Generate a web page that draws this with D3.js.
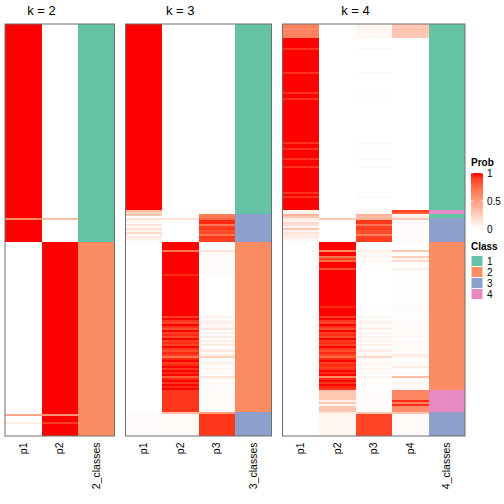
<!DOCTYPE html>
<html>
<head>
<meta charset="utf-8">
<script src="https://cdn.jsdelivr.net/npm/d3@7"></script>
<style>
  html, body { margin: 0; padding: 0; background: #fff; }
  svg { display: block; }
  text { font-family: "Liberation Sans", Arial, Helvetica, sans-serif; fill: #000; }
</style>
</head>
<body>
<svg id="chart" width="504" height="504"></svg>
<script>
// ---------------- DATA ----------------
// Each run: [number of samples, p1, ..., pk, class]; rows in the same sample order for every panel.
const kValues = [2, 3, 4];
const classLevels = [1, 2, 3, 4];
const classColors = ["#66C2A5", "#FC8D62", "#8DA0CB", "#E78AC3"];
const probTicks = [0, 0.5, 1];

const k2Runs = [
  [97, 1, 0, 1],
  [1, 0.6, 0.35, 1],
  [11, 1, 0, 1],
  [86, 0, 1, 2],
  [1, 0.45, 0.55, 2],
  [3, 0, 1, 2],
  [1, 0.1, 0.9, 2],
  [6, 0, 1, 2]
];

const k3Runs = [
  [93, 1, 0, 0, 1],
  [1, 0.35, 0, 0.05, 1],
  [1, 0.25, 0.02, 0.05, 1],
  [1, 0.3, 0, 0.65, 3],
  [1, 0.02, 0, 0.7, 3],
  [1, 0.15, 0.15, 0.75, 3],
  [1, 0.05, 0, 0.95, 3],
  [1, 0.03, 0, 0.95, 3],
  [1, 0.15, 0, 0.7, 3],
  [1, 0.05, 0, 0.9, 3],
  [1, 0.15, 0, 0.92, 3],
  [1, 0.05, 0, 0.85, 3],
  [1, 0.2, 0, 0.88, 3],
  [1, 0.05, 0, 0.7, 3],
  [1, 0.12, 0, 0.92, 3],
  [1, 0.08, 0, 0.9, 3],
  [1, 0.02, 0, 0.9, 3],
  [4, 0, 1, 0, 2],
  [1, 0, 0.7, 0.15, 2],
  [11, 0, 1, 0.02, 2],
  [1, 0, 0.95, 0.03, 2],
  [20, 0, 1, 0, 2],
  [1, 0, 0.9, 0.08, 2],
  [1, 0, 1, 0, 2],
  [1, 0, 0.92, 0.05, 2],
  [1, 0, 0.88, 0.1, 2],
  [1, 0, 1, 0.02, 2],
  [1, 0, 0.93, 0.05, 2],
  [1, 0, 0.85, 0.12, 2],
  [1, 0, 1, 0, 2],
  [1, 0, 0.9, 0.07, 2],
  [1, 0, 0.95, 0.03, 2],
  [1, 0, 0.87, 0.1, 2],
  [1, 0, 1, 0.01, 2],
  [1, 0, 0.9, 0.08, 2],
  [1, 0, 0.95, 0.04, 2],
  [1, 0, 0.88, 0.1, 2],
  [1, 0, 1, 0, 2],
  [1, 0, 0.92, 0.06, 2],
  [1, 0, 0.86, 0.12, 2],
  [1, 0, 0.95, 0.04, 2],
  [1, 0, 0.9, 0.08, 2],
  [1, 0, 0.7, 0.25, 2],
  [1, 0, 0.95, 0.04, 2],
  [1, 0, 1, 0.01, 2],
  [1, 0, 0.9, 0.08, 2],
  [1, 0, 0.95, 0.03, 2],
  [1, 0, 1, 0, 2],
  [1, 0, 0.92, 0.05, 2],
  [1, 0, 1, 0.01, 2],
  [1, 0, 0.95, 0.03, 2],
  [1, 0, 1, 0, 2],
  [1, 0, 0.8, 0.15, 2],
  [1, 0, 0.95, 0.04, 2],
  [1, 0, 1, 0.01, 2],
  [1, 0, 0.92, 0.05, 2],
  [1, 0, 1, 0, 2],
  [1, 0, 0.95, 0.03, 2],
  [1, 0, 1, 0.01, 2],
  [11, 0, 0.92, 0.03, 2],
  [1, 0, 0.35, 0.5, 3],
  [11, 0.02, 0.03, 0.92, 3]
];

const k4Runs = [
  [1, 0.62, 0, 0.05, 0.3, 1],
  [1, 0.65, 0, 0.05, 0.28, 1],
  [1, 0.6, 0, 0.06, 0.32, 1],
  [1, 0.64, 0, 0.05, 0.3, 1],
  [1, 0.62, 0, 0.05, 0.3, 1],
  [1, 0.66, 0, 0.04, 0.28, 1],
  [1, 0.63, 0, 0.05, 0.3, 1],
  [5, 1, 0, 0, 0, 1],
  [1, 0.93, 0, 0.03, 0, 1],
  [11, 1, 0, 0, 0, 1],
  [1, 0.93, 0, 0.03, 0, 1],
  [9, 1, 0, 0, 0, 1],
  [1, 0.93, 0, 0.03, 0, 1],
  [2, 1, 0, 0, 0, 1],
  [1, 0.93, 0, 0.03, 0, 1],
  [21, 1, 0, 0, 0, 1],
  [1, 0.93, 0, 0.03, 0, 1],
  [2, 1, 0, 0, 0, 1],
  [1, 0.93, 0, 0.03, 0, 1],
  [4, 1, 0, 0, 0, 1],
  [1, 0.93, 0, 0.03, 0, 1],
  [3, 1, 0, 0, 0, 1],
  [1, 0.93, 0, 0.03, 0, 1],
  [12, 1, 0, 0, 0, 1],
  [1, 0.93, 0, 0.03, 0, 1],
  [1, 1, 0, 0, 0, 1],
  [1, 0.93, 0, 0.03, 0, 1],
  [6, 1, 0, 0, 0, 1],
  [1, 0.05, 0, 0.05, 0.9, 4],
  [1, 0.08, 0, 0.03, 0.8, 4],
  [1, 0.4, 0, 0.4, 0.05, 1],
  [1, 0.3, 0, 0.35, 0.08, 1],
  [1, 0.1, 0.3, 0.4, 0.3, 3],
  [1, 0.05, 0, 0.92, 0.02, 3],
  [1, 0.2, 0, 0.92, 0.02, 3],
  [1, 0.15, 0, 0.7, 0.02, 3],
  [1, 0.05, 0, 0.9, 0.02, 3],
  [1, 0.3, 0, 0.9, 0.02, 3],
  [1, 0.05, 0, 0.85, 0.02, 3],
  [1, 0.15, 0, 0.85, 0.02, 3],
  [1, 0.1, 0, 0.65, 0.02, 3],
  [1, 0.1, 0, 0.9, 0.02, 3],
  [1, 0.05, 0, 0.9, 0.02, 3],
  [1, 0.02, 0, 0.9, 0.02, 3],
  [4, 0, 1, 0, 0, 2],
  [1, 0, 0.6, 0.1, 0.3, 2],
  [2, 0, 1, 0.03, 0, 2],
  [1, 0, 0.7, 0.05, 0.25, 2],
  [1, 0, 0.9, 0.02, 0.05, 2],
  [1, 0, 0.75, 0.05, 0.2, 2],
  [3, 0, 1, 0, 0, 2],
  [1, 0, 0.85, 0.03, 0.1, 2],
  [18, 0, 1, 0, 0.01, 2],
  [1, 0, 0.96, 0.01, 0.03, 2],
  [4, 0, 1, 0, 0.01, 2],
  [1, 0, 0.9, 0.06, 0.03, 2],
  [1, 0, 1, 0, 0, 2],
  [1, 0, 0.92, 0.04, 0.03, 2],
  [1, 0, 0.88, 0.08, 0.03, 2],
  [1, 0, 1, 0.01, 0.01, 2],
  [1, 0, 0.93, 0.04, 0.02, 2],
  [1, 0, 0.85, 0.1, 0.04, 2],
  [1, 0, 1, 0, 0.01, 2],
  [1, 0, 0.9, 0.06, 0.03, 2],
  [1, 0, 0.95, 0.02, 0.02, 2],
  [1, 0, 0.87, 0.08, 0.04, 2],
  [1, 0, 1, 0.01, 0, 2],
  [1, 0, 0.9, 0.06, 0.03, 2],
  [1, 0, 0.95, 0.03, 0.02, 2],
  [1, 0, 0.88, 0.08, 0.03, 2],
  [1, 0, 1, 0, 0, 2],
  [1, 0, 0.92, 0.05, 0.02, 2],
  [1, 0, 0.86, 0.1, 0.03, 2],
  [1, 0, 0.95, 0.03, 0.02, 2],
  [1, 0, 0.88, 0.04, 0.1, 2],
  [1, 0, 0.75, 0.2, 0.05, 2],
  [1, 0, 0.95, 0.03, 0.02, 2],
  [1, 0, 1, 0.01, 0, 2],
  [1, 0, 0.9, 0.06, 0.04, 2],
  [1, 0, 0.95, 0.03, 0.02, 2],
  [1, 0, 0.92, 0.01, 0.1, 2],
  [1, 0, 0.92, 0.05, 0.03, 2],
  [1, 0, 1, 0.01, 0, 2],
  [1, 0, 0.95, 0.03, 0.02, 2],
  [1, 0, 1, 0, 0, 2],
  [1, 0, 0.6, 0.05, 0.35, 2],
  [1, 0, 0.95, 0.02, 0.03, 2],
  [1, 0, 1, 0, 0.01, 2],
  [1, 0, 0.92, 0.03, 0.05, 2],
  [1, 0, 1, 0, 0.01, 2],
  [1, 0, 0.95, 0.02, 0.03, 2],
  [1, 0, 0.93, 0.02, 0.05, 2],
  [5, 0, 0.3, 0.02, 0.62, 4],
  [1, 0, 0.08, 0.02, 0.95, 4],
  [1, 0, 0.3, 0.02, 0.65, 4],
  [1, 0, 0.05, 0.02, 0.95, 4],
  [3, 0, 0.3, 0.02, 0.6, 4],
  [1, 0, 0.1, 0.3, 0.3, 3],
  [11, 0, 0.05, 0.88, 0.03, 3]
];

const panelRuns = [k2Runs, k3Runs, k4Runs];

// ---------------- LAYOUT ----------------
const svg = d3.select("#chart");
const yTop = 24, yBot = 436;
const colW = 36.5, panelGap = 11, left0 = 5;

function expand(runs) {
  const rows = [];
  runs.forEach(r => {
    for (let i = 0; i < r[0]; i++) rows.push({ probs: r.slice(1, r.length - 1), cls: r[r.length - 1] });
  });
  return rows;
}

const panels = panelRuns.map((runs, i) => ({ k: kValues[i], rows: expand(runs) }));
const nSamples = panels[0].rows.length;

const y = d3.scaleBand().domain(d3.range(nSamples)).range([yTop, yBot]).paddingInner(0).paddingOuter(0);
const probColor = d3.scaleLinear().domain([0, 1]).range(["#FFFFFF", "#FF0000"]).interpolate(d3.interpolateLab);
const classColor = d3.scaleOrdinal().domain(classLevels).range(classColors);

let xStart = left0;
panels.forEach(p => {
  const cols = d3.range(1, p.k + 1).map(i => "p" + i).concat([p.k + "_classes"]);
  const x = d3.scaleBand().domain(cols).range([xStart, xStart + cols.length * colW]);
  const g = svg.append("g");

  const cells = [];
  p.rows.forEach((r, ri) => {
    r.probs.forEach((v, ci) => cells.push({ col: cols[ci], row: ri, fill: probColor(v) }));
    cells.push({ col: cols[cols.length - 1], row: ri, fill: classColor(r.cls) });
  });

  g.selectAll("rect.cell").data(cells).join("rect")
    .attr("class", "cell")
    .attr("x", d => x(d.col))
    .attr("y", d => y(d.row))
    .attr("width", x.bandwidth() + 0.3)
    .attr("height", y.bandwidth() + 0.3)
    .attr("fill", d => d.fill)
    .attr("shape-rendering", "crispEdges");

  // border
  g.append("rect")
    .attr("x", xStart).attr("y", yTop)
    .attr("width", cols.length * colW).attr("height", yBot - yTop)
    .attr("fill", "none").attr("stroke", "#6e6e6e").attr("stroke-width", 1);

  // title centered over the probability columns
  const probEnd = x(cols[p.k - 1]) + x.bandwidth();
  g.append("text")
    .attr("x", (xStart + probEnd) / 2).attr("y", 15)
    .attr("text-anchor", "middle").attr("font-size", 13)
    .text("k = " + p.k);

  // column labels
  g.selectAll("text.col").data(cols).join("text")
    .attr("class", "col")
    .attr("transform", d => `translate(${x(d) + x.bandwidth() / 2},442.5) rotate(-90)`)
    .attr("text-anchor", "end").attr("dy", "0.35em").attr("font-size", 10.5)
    .text(d => d);

  xStart += cols.length * colW + panelGap;
});

// ---------------- LEGENDS ----------------
const lx = 471;
svg.append("text").attr("x", lx).attr("y", 166).attr("font-size", 10).attr("font-weight", "bold").text("Prob");

const barTop = 173, barBot = 229, barW = 12;
const ly = d3.scaleLinear().domain([0, 1]).range([barBot, barTop]);
const defs = svg.append("defs");
const grad = defs.append("linearGradient").attr("id", "probGrad")
  .attr("x1", 0).attr("y1", 1).attr("x2", 0).attr("y2", 0);
d3.range(0, 1.0001, 0.1).forEach(t => grad.append("stop").attr("offset", t).attr("stop-color", probColor(t)));
svg.append("rect").attr("x", lx).attr("y", barTop).attr("width", barW).attr("height", barBot - barTop)
  .attr("fill", "url(#probGrad)");
probTicks.forEach(t => {
  svg.append("line").attr("x1", lx).attr("x2", lx + 2).attr("y1", ly(t)).attr("y2", ly(t)).attr("stroke", "#fff").attr("stroke-width", 1);
  svg.append("line").attr("x1", lx + barW - 2).attr("x2", lx + barW).attr("y1", ly(t)).attr("y2", ly(t)).attr("stroke", "#fff").attr("stroke-width", 1);
  svg.append("text").attr("x", lx + barW + 4).attr("y", ly(t)).attr("dy", "0.35em").attr("font-size", 10).text(t);
});

svg.append("text").attr("x", lx).attr("y", 250).attr("font-size", 10).attr("font-weight", "bold").text("Class");
const sy = d3.scaleBand().domain(classLevels).range([255.5, 299.5]);
svg.selectAll("rect.sw").data(classLevels).join("rect")
  .attr("class", "sw")
  .attr("x", lx).attr("y", d => sy(d)).attr("width", barW).attr("height", sy.bandwidth())
  .attr("fill", d => classColor(d)).attr("stroke", "#fff").attr("stroke-width", 1);
svg.selectAll("text.sl").data(classLevels).join("text")
  .attr("class", "sl")
  .attr("x", lx + barW + 4).attr("y", d => sy(d) + sy.bandwidth() / 2).attr("dy", "0.35em").attr("font-size", 10)
  .text(d => d);
</script>
</body>
</html>
